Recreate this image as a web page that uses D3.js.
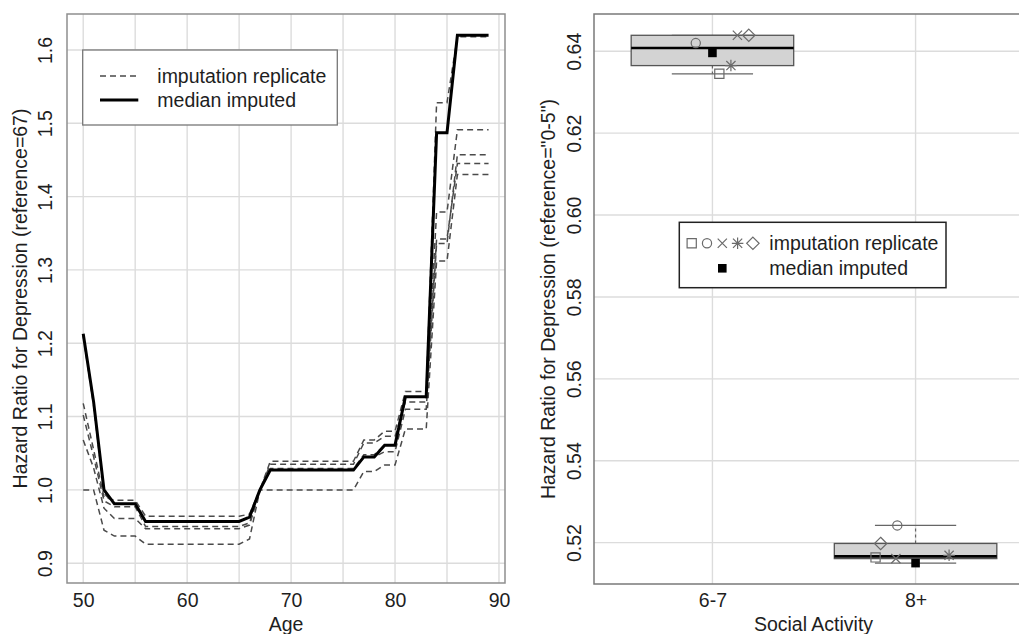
<!DOCTYPE html>
<html>
<head>
<meta charset="utf-8">
<script src="https://cdn.jsdelivr.net/npm/d3@7"></script>
<style>
  body { margin: 0; background: #fff; }
  svg { display: block; font-family: 'Liberation Sans', Arial, sans-serif; }
</style>
</head>
<body>
<div id="chart"></div>
<script>
// ---- data ----
const ages = [50, 51, 52, 53, 54, 55, 56, 57, 58, 59,
              60, 61, 62, 63, 64, 65, 66, 67, 68, 69,
              70, 71, 72, 73, 74, 75, 76, 77, 78, 79,
              80, 81, 82, 83, 84, 85, 86, 87, 88, 89];

// median imputed fit (solid line)
const medianHR = [1.213, 1.120, 1.000, 0.981, 0.981, 0.981, 0.957, 0.957, 0.957, 0.957,
                  0.957, 0.957, 0.957, 0.957, 0.957, 0.957, 0.963, 1.000, 1.027, 1.027,
                  1.027, 1.027, 1.027, 1.027, 1.027, 1.027, 1.027, 1.045, 1.045, 1.061,
                  1.061, 1.127, 1.127, 1.127, 1.487, 1.487, 1.620, 1.620, 1.620, 1.620];

// imputation replicates (dashed lines)
const rep1HR = [1.118, 1.055, 0.990, 0.986, 0.986, 0.986, 0.964, 0.964, 0.964, 0.964,
                0.964, 0.964, 0.964, 0.964, 0.964, 0.964, 0.967, 1.000, 1.039, 1.039,
                1.039, 1.039, 1.039, 1.039, 1.039, 1.039, 1.039, 1.068, 1.068, 1.080,
                1.080, 1.134, 1.134, 1.134, 1.528, 1.528, 1.618, 1.618, 1.618, 1.618];
const rep2HR = [1.102, 1.045, 0.985, 0.977, 0.977, 0.977, 0.950, 0.950, 0.950, 0.950,
                0.950, 0.950, 0.950, 0.950, 0.950, 0.950, 0.955, 1.000, 1.035, 1.035,
                1.035, 1.035, 1.035, 1.035, 1.035, 1.035, 1.035, 1.064, 1.064, 1.073,
                1.073, 1.120, 1.120, 1.120, 1.379, 1.379, 1.491, 1.491, 1.491, 1.491];
const rep3HR = [1.068, 1.030, 0.975, 0.961, 0.961, 0.961, 0.947, 0.947, 0.947, 0.947,
                0.947, 0.947, 0.947, 0.947, 0.947, 0.947, 0.952, 1.000, 1.027, 1.027,
                1.027, 1.027, 1.027, 1.027, 1.027, 1.027, 1.027, 1.045, 1.045, 1.052,
                1.052, 1.110, 1.110, 1.110, 1.336, 1.336, 1.457, 1.457, 1.457, 1.457];
const rep4HR = [1.210, 1.115, 0.995, 0.981, 0.981, 0.981, 0.957, 0.957, 0.957, 0.957,
                0.957, 0.957, 0.957, 0.957, 0.957, 0.957, 0.962, 1.000, 1.029, 1.029,
                1.029, 1.029, 1.029, 1.029, 1.029, 1.029, 1.029, 1.048, 1.048, 1.061,
                1.061, 1.127, 1.127, 1.127, 1.342, 1.342, 1.445, 1.445, 1.445, 1.445];
const rep5HR = [1.000, 1.000, 0.945, 0.937, 0.937, 0.937, 0.926, 0.926, 0.926, 0.926,
                0.926, 0.926, 0.926, 0.926, 0.926, 0.926, 0.933, 1.000, 1.000, 1.000,
                1.000, 1.000, 1.000, 1.000, 1.000, 1.000, 1.000, 1.025, 1.025, 1.034,
                1.034, 1.083, 1.083, 1.083, 1.312, 1.312, 1.430, 1.430, 1.430, 1.430];

const ageTicks = [50, 60, 70, 80, 90];
const ageGrid = [50, 55, 60, 65, 70, 75, 80, 85, 90];
const hrTicks = [0.9, 1.0, 1.1, 1.2, 1.3, 1.4, 1.5, 1.6];

// social activity panel
const activityCats = ['6-7', '8+'];
const repSymbols = ['square', 'circle', 'times', 'asterisk', 'diamond'];
const rep67 = [0.6345, 0.6420, 0.6439, 0.6365, 0.6439];
const rep8plus = [0.5164, 0.5242, 0.5161, 0.5169, 0.5198];
const medianActivity = [0.6396, 0.5150];
// horizontal jitter of the replicate symbols, in category widths
const jitter67 = [0.034, -0.082, 0.123, 0.091, 0.179];
const jitter8plus = [-0.197, -0.090, -0.097, 0.165, -0.172];
const activityTicks = [0.52, 0.54, 0.56, 0.58, 0.60, 0.62, 0.64];

// ---- drawing ----
const W = 1019, H = 634;
const svg = d3.select('#chart').append('svg')
  .attr('width', W)
  .attr('height', H);

const fontSize = 19.5;
const gridColor = '#dcdcdc';
const textColor = '#1e1e1e';

// helper for R-ish plotting symbols
function symbolPath(type, r) {
  if (type === 'square') return `M${-r},${-r}H${r}V${r}H${-r}Z`;
  if (type === 'circle') return `M${r},0A${r},${r} 0 1,1 ${-r},0A${r},${r} 0 1,1 ${r},0Z`;
  if (type === 'times') return `M${-r},${-r}L${r},${r}M${-r},${r}L${r},${-r}`;
  if (type === 'asterisk') {
    const p = r * 1.25;
    return `M${-r},${-r}L${r},${r}M${-r},${r}L${r},${-r}M${-p},0H${p}M0,${-p}V${p}`;
  }
  const d = r * 1.35; // diamond
  return `M0,${-d}L${d},0L0,${d}L${-d},0Z`;
}

// ===== left panel: hazard ratio by age =====
const L = { left: 67, right: 505, top: 14, bottom: 583 };
const xAge = d3.scaleLinear().domain([48.44, 90.58]).range([L.left, L.right]);
const yHR = d3.scaleLinear().domain([0.873, 1.649]).range([L.bottom, L.top]);

const left = svg.append('g');

left.append('g').selectAll('line.vg')
  .data(ageGrid).enter().append('line')
  .attr('x1', d => xAge(d)).attr('x2', d => xAge(d))
  .attr('y1', L.top).attr('y2', L.bottom)
  .attr('stroke', gridColor).attr('stroke-width', 1.4);
left.append('g').selectAll('line.hg')
  .data(hrTicks).enter().append('line')
  .attr('x1', L.left).attr('x2', L.right)
  .attr('y1', d => yHR(d)).attr('y2', d => yHR(d))
  .attr('stroke', gridColor).attr('stroke-width', 1.4);

const line = d3.line()
  .x((d, i) => xAge(ages[i]))
  .y(d => yHR(d));

left.append('g').selectAll('path.rep')
  .data([rep1HR, rep2HR, rep3HR, rep4HR, rep5HR]).enter().append('path')
  .attr('d', line)
  .attr('fill', 'none')
  .attr('stroke', '#4a4a4a')
  .attr('stroke-width', 1.5)
  .attr('stroke-dasharray', '6,4');

left.append('path')
  .attr('d', line(medianHR))
  .attr('fill', 'none')
  .attr('stroke', '#000')
  .attr('stroke-width', 3);

left.append('rect')
  .attr('x', L.left).attr('y', L.top)
  .attr('width', L.right - L.left).attr('height', L.bottom - L.top)
  .attr('fill', 'none').attr('stroke', '#8e8e8e').attr('stroke-width', 1.5);

// axes (labels only, R style)
const xAxisL = left.append('g')
  .attr('transform', 'translate(0,' + L.bottom + ')')
  .call(d3.axisBottom(xAge).tickValues(ageTicks).tickSize(0).tickPadding(10));
const yAxisL = left.append('g')
  .attr('transform', 'translate(' + L.left + ',0)')
  .call(d3.axisLeft(yHR).tickValues(hrTicks).tickFormat(d3.format('.1f')).tickSize(0));
yAxisL.selectAll('text')
  .attr('x', 0).attr('dy', 0)
  .attr('text-anchor', 'middle')
  .attr('transform', 'translate(-15,0) rotate(-90)');
[xAxisL, yAxisL].forEach(a => {
  a.select('.domain').remove();
  a.selectAll('text').attr('font-size', fontSize).attr('fill', textColor)
    .attr('font-family', "'Liberation Sans', Arial, sans-serif");
});

left.append('text')
  .attr('x', (L.left + L.right) / 2).attr('y', 630.5)
  .attr('text-anchor', 'middle')
  .attr('font-size', fontSize).attr('fill', textColor)
  .text('Age');
left.append('text')
  .attr('transform', 'translate(26.5,' + (L.top + L.bottom) / 2 + ') rotate(-90)')
  .attr('text-anchor', 'middle')
  .attr('font-size', fontSize).attr('fill', textColor)
  .text('Hazard Ratio for Depression (reference=67)');

// legend
const lg = left.append('g').attr('transform', 'translate(82.7,50)');
lg.append('rect')
  .attr('width', 254.6).attr('height', 75)
  .attr('fill', '#fff').attr('stroke', '#777').attr('stroke-width', 1.3);
const lgItems = [
  { label: 'imputation replicate', dash: '6,4', width: 1.5, color: '#4a4a4a' },
  { label: 'median imputed', dash: null, width: 3, color: '#000' }
];
lgItems.forEach((it, i) => {
  const yy = 26 + i * 24;
  lg.append('line')
    .attr('x1', 17.3).attr('x2', 55.6).attr('y1', yy).attr('y2', yy)
    .attr('stroke', it.color).attr('stroke-width', it.width)
    .attr('stroke-dasharray', it.dash);
  lg.append('text')
    .attr('x', 74.6).attr('y', yy + 7)
    .attr('font-size', fontSize).attr('fill', textColor)
    .text(it.label);
});

// ===== right panel: hazard ratio by social activity =====
const R = { left: 594, right: 1034, top: 14, bottom: 584 };
const xAct = d3.scalePoint().domain(activityCats).range([R.left, R.right]).padding(0.583);
const yAct = d3.scaleLinear().domain([0.5099, 0.6491]).range([R.bottom, R.top]);
const step = xAct.step();

const right = svg.append('g');

right.append('g').selectAll('line.vg')
  .data(activityCats).enter().append('line')
  .attr('x1', d => xAct(d)).attr('x2', d => xAct(d))
  .attr('y1', R.top).attr('y2', R.bottom)
  .attr('stroke', gridColor).attr('stroke-width', 1.4);
right.append('g').selectAll('line.hg')
  .data(activityTicks).enter().append('line')
  .attr('x1', R.left).attr('x2', R.right)
  .attr('y1', d => yAct(d)).attr('y2', d => yAct(d))
  .attr('stroke', gridColor).attr('stroke-width', 1.4);

// Tukey five-number summary like R's fivenum
function fivenum(vals) {
  const x = vals.slice().sort(d3.ascending);
  const n = x.length;
  const n4 = Math.floor((n + 3) / 2) / 2;
  const d = [1, n4, (n + 1) / 2, n + 1 - n4, n];
  return d.map(k => 0.5 * (x[Math.floor(k) - 1] + x[Math.ceil(k) - 1]));
}

const groups = activityCats.map((cat, i) => {
  const reps = i === 0 ? rep67 : rep8plus;
  const jit = i === 0 ? jitter67 : jitter8plus;
  return { cat, reps, jit, med: medianActivity[i], stats: fivenum(reps.concat([medianActivity[i]])) };
});

const boxes = right.append('g').selectAll('g.box')
  .data(groups).enter().append('g');

boxes.each(function(g) {
  const sel = d3.select(this);
  const cx = xAct(g.cat);
  const s = g.stats;
  // whiskers
  sel.append('line')
    .attr('x1', cx).attr('x2', cx).attr('y1', yAct(s[3])).attr('y2', yAct(s[4]))
    .attr('stroke', '#666').attr('stroke-width', 1.2).attr('stroke-dasharray', '3,3');
  sel.append('line')
    .attr('x1', cx).attr('x2', cx).attr('y1', yAct(s[1])).attr('y2', yAct(s[0]))
    .attr('stroke', '#666').attr('stroke-width', 1.2).attr('stroke-dasharray', '3,3');
  [s[0], s[4]].forEach(v => {
    sel.append('line')
      .attr('x1', cx - 0.2 * step).attr('x2', cx + 0.2 * step)
      .attr('y1', yAct(v)).attr('y2', yAct(v))
      .attr('stroke', '#666').attr('stroke-width', 1.2);
  });
  sel.append('rect')
    .attr('x', cx - 0.4 * step).attr('width', 0.8 * step)
    .attr('y', yAct(s[3])).attr('height', yAct(s[1]) - yAct(s[3]))
    .attr('fill', '#d3d3d3').attr('stroke', '#555').attr('stroke-width', 1.3);
  sel.append('line')
    .attr('x1', cx - 0.4 * step).attr('x2', cx + 0.4 * step)
    .attr('y1', yAct(s[2])).attr('y2', yAct(s[2]))
    .attr('stroke', '#000').attr('stroke-width', 2.6);
  // replicate symbols
  sel.selectAll('path.rep')
    .data(g.reps).enter().append('path')
    .attr('transform', (v, k) => 'translate(' + (cx + g.jit[k] * step) + ',' + yAct(v) + ')')
    .attr('d', (v, k) => symbolPath(repSymbols[k], 4.6))
    .attr('fill', 'none').attr('stroke', '#6a6a6a').attr('stroke-width', 1.2);
  // median imputed
  sel.append('path')
    .attr('transform', 'translate(' + cx + ',' + yAct(g.med) + ')')
    .attr('d', symbolPath('square', 4.3))
    .attr('fill', '#000');
});

right.append('path')
  .attr('d', `M${R.right},${R.top}H${R.left}V${R.bottom}H${R.right}`)
  .attr('fill', 'none').attr('stroke', '#7a7a7a').attr('stroke-width', 1.5);

const xAxisR = right.append('g')
  .attr('transform', 'translate(0,' + R.bottom + ')')
  .call(d3.axisBottom(xAct).tickSize(0).tickPadding(9.5));
const yAxisR = right.append('g')
  .attr('transform', 'translate(' + R.left + ',0)')
  .call(d3.axisLeft(yAct).tickValues(activityTicks).tickFormat(d3.format('.2f')).tickSize(0));
yAxisR.selectAll('text')
  .attr('x', 0).attr('dy', 0)
  .attr('text-anchor', 'middle')
  .attr('transform', 'translate(-13.3,0) rotate(-90)');
[xAxisR, yAxisR].forEach(a => {
  a.select('.domain').remove();
  a.selectAll('text').attr('font-size', fontSize).attr('fill', textColor)
    .attr('font-family', "'Liberation Sans', Arial, sans-serif");
});

right.append('text')
  .attr('x', 813.5).attr('y', 630.5)
  .attr('text-anchor', 'middle')
  .attr('font-size', fontSize).attr('fill', textColor)
  .text('Social Activity');
right.append('text')
  .attr('transform', 'translate(555,' + (R.top + R.bottom) / 2 + ') rotate(-90)')
  .attr('text-anchor', 'middle')
  .attr('font-size', fontSize).attr('fill', textColor)
  .text('Hazard Ratio for Depression (reference="0-5")');

// legend
const rg = right.append('g').attr('transform', 'translate(679.3,222.3)');
rg.append('rect')
  .attr('width', 266.7).attr('height', 65.4)
  .attr('fill', '#fff').attr('stroke', '#222').attr('stroke-width', 1.5);
rg.selectAll('path.sym')
  .data(repSymbols).enter().append('path')
  .attr('transform', (d, k) => 'translate(' + (12.4 + k * 15.3) + ',21)')
  .attr('d', d => symbolPath(d, 4.6))
  .attr('fill', 'none').attr('stroke', '#6a6a6a').attr('stroke-width', 1.2);
rg.append('path')
  .attr('transform', 'translate(43,46)')
  .attr('d', symbolPath('square', 4.3))
  .attr('fill', '#000');
rg.append('text')
  .attr('x', 90).attr('y', 28)
  .attr('font-size', fontSize).attr('fill', textColor)
  .text('imputation replicate');
rg.append('text')
  .attr('x', 90).attr('y', 53)
  .attr('font-size', fontSize).attr('fill', textColor)
  .text('median imputed');
</script>
</body>
</html>
